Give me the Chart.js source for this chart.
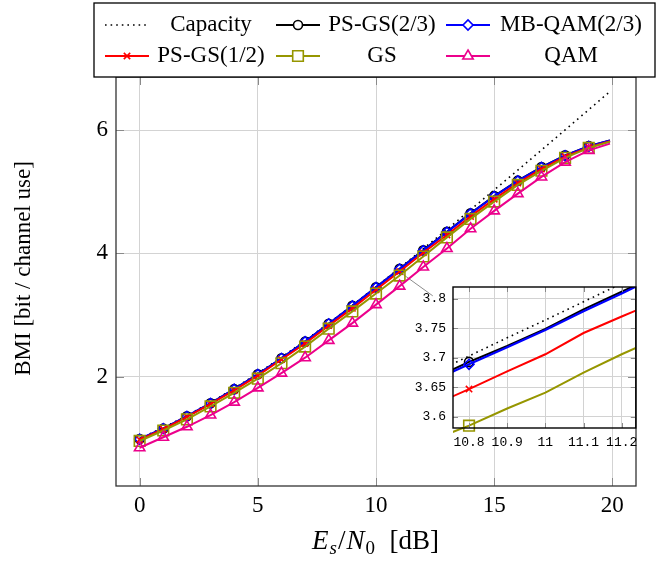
<!DOCTYPE html>
<html>
<head>
<meta charset="utf-8">
<script src="https://cdn.jsdelivr.net/npm/chart.js@4.4.0/dist/chart.umd.min.js"></script>
<style>
  html, body { margin: 0; padding: 0; background: #fff; }
  #wrap { position: relative; width: 668px; height: 561px; }
  #main { position: absolute; left: 0; top: 0; }
  #inset { position: absolute; left: 390px; top: 262px; }
</style>
</head>
<body>
<div id="wrap">
  <canvas id="main" width="668" height="561"></canvas>
  <canvas id="inset" width="255" height="192"></canvas>
</div>
<script>
// main plot: Es/N0 in dB
const snr = [0, 1, 2, 3, 4, 5, 6, 7, 8, 9, 10, 11, 12, 13, 14, 15, 16, 17, 18, 19, 19.9];
const capacity = [1.000, 1.176, 1.370, 1.583, 1.812, 2.057, 2.316, 2.588, 2.870, 3.161, 3.459, 3.764, 4.075, 4.389, 4.707, 5.028, 5.351, 5.676, 6.002, 6.330, 6.625];
const psgs23 = [0.99, 1.16, 1.36, 1.57, 1.80, 2.04, 2.30, 2.57, 2.86, 3.15, 3.45, 3.75, 4.05, 4.35, 4.65, 4.93, 5.18, 5.40, 5.59, 5.74, 5.83];
const mbqam23 = [0.99, 1.16, 1.36, 1.57, 1.80, 2.04, 2.30, 2.57, 2.86, 3.15, 3.45, 3.747, 4.045, 4.345, 4.645, 4.925, 5.175, 5.395, 5.585, 5.735, 5.83];
const psgs12 = [0.98, 1.15, 1.35, 1.56, 1.78, 2.02, 2.28, 2.54, 2.83, 3.11, 3.41, 3.706, 4.01, 4.30, 4.60, 4.88, 5.14, 5.37, 5.57, 5.72, 5.82];
const gs = [0.96, 1.13, 1.31, 1.52, 1.74, 1.97, 2.22, 2.49, 2.78, 3.06, 3.35, 3.641, 3.95, 4.26, 4.56, 4.84, 5.11, 5.34, 5.55, 5.71, 5.81];
const qam = [0.85, 1.02, 1.19, 1.38, 1.59, 1.82, 2.06, 2.31, 2.59, 2.87, 3.17, 3.47, 3.78, 4.08, 4.40, 4.69, 4.97, 5.24, 5.48, 5.67, 5.78];
const xTicks = [0, 5, 10, 15, 20];
const yTicks = [2, 4, 6];

// zoomed inset around 11 dB
const insetSnr = [10.7, 10.8, 10.9, 11.0, 11.1, 11.2, 11.3];
const insetCapacity = [3.672, 3.703, 3.734, 3.764, 3.795, 3.826, 3.857];
const insetPsgs23 = [3.663, 3.693, 3.720, 3.749, 3.782, 3.812, 3.842];
const insetMbqam23 = [3.660, 3.689, 3.718, 3.747, 3.779, 3.809, 3.840];
const insetPsgs12 = [3.618, 3.647, 3.677, 3.706, 3.742, 3.770, 3.797];
const insetGs = [3.560, 3.585, 3.614, 3.641, 3.675, 3.706, 3.735];
const insetXTicks = [10.8, 10.9, 11, 11.1, 11.2];
const insetXLabels = ['10.8', '10.9', '11', '11.1', '11.2'];
const insetYTicks = [3.6, 3.65, 3.7, 3.75, 3.8];
const insetYLabels = ['3.6', '3.65', '3.7', '3.75', '3.8'];

const labels = ['Capacity', 'PS-GS(2/3)', 'MB-QAM(2/3)', 'PS-GS(1/2)', 'GS', 'QAM'];
const styles = [
  { color: '#000000', point: false, r: 0, dash: [1.6, 4], width: 1.6 },
  { color: '#000000', point: 'circle', r: 4.5, dash: [], width: 2 },
  { color: '#0000ff', point: 'rectRot', r: 5, dash: [], width: 2.2 },
  { color: '#ff0000', point: 'crossRot', r: 4.5, dash: [], width: 2 },
  { color: '#969600', point: 'rect', r: 7.5, dash: [], width: 2 },
  { color: '#ec008c', point: 'triangle', r: 6, dash: [], width: 2 }
];

const SERIF = "'Liberation Serif', 'Times New Roman', serif";
Chart.defaults.font.family = SERIF;
Chart.defaults.color = '#000';

function lineSet(i, xs, ys, markAt) {
  const s = styles[i];
  return {
    label: labels[i],
    data: xs.map((x, k) => ({ x: x, y: ys[k] })),
    borderColor: s.color,
    borderWidth: s.width,
    borderDash: s.dash,
    backgroundColor: 'rgba(0,0,0,0)',
    pointStyle: s.point,
    pointRadius: c => (s.point && markAt(c.dataIndex)) ? s.r : 0,
    pointHoverRadius: 0,
    pointBorderColor: s.color,
    pointBackgroundColor: 'rgba(0,0,0,0)',
    pointBorderWidth: 1.6,
    tension: 0,
    fill: false,
    order: styles.length - i
  };
}

function tickSetter(arr) {
  return scale => { scale.ticks = arr.map(v => ({ value: v })); };
}

function drawFrame(chart, xt, yt, len, boxColor, boxWidth) {
  const { ctx, chartArea: a } = chart;
  const xs = chart.scales.x, ys = chart.scales.y;
  ctx.save();
  ctx.strokeStyle = '#8a8a8a';
  ctx.lineWidth = 1;
  ctx.beginPath();
  xt.forEach(v => {
    const p = Math.round(xs.getPixelForValue(v)) + 0.5;
    ctx.moveTo(p, a.bottom); ctx.lineTo(p, a.bottom - len);
    ctx.moveTo(p, a.top); ctx.lineTo(p, a.top + len);
  });
  yt.forEach(v => {
    const p = Math.round(ys.getPixelForValue(v)) + 0.5;
    ctx.moveTo(a.left, p); ctx.lineTo(a.left + len, p);
    ctx.moveTo(a.right, p); ctx.lineTo(a.right - len, p);
  });
  ctx.stroke();
  ctx.strokeStyle = boxColor;
  ctx.lineWidth = boxWidth;
  ctx.strokeRect(a.left, a.top, a.right - a.left, a.bottom - a.top);
  ctx.restore();
}

// inset first, so the main chart can aim its connector at it
const insetCanvas = document.getElementById('inset');
const insetChart = new Chart(insetCanvas.getContext('2d'), {
  type: 'line',
  data: {
    datasets: [
      lineSet(0, insetSnr, insetCapacity, () => false),
      lineSet(1, insetSnr, insetPsgs23, k => insetSnr[k] === 10.8),
      lineSet(2, insetSnr, insetMbqam23, k => insetSnr[k] === 10.8),
      lineSet(3, insetSnr, insetPsgs12, k => insetSnr[k] === 10.8),
      lineSet(4, insetSnr, insetGs, k => insetSnr[k] === 10.8)
    ].map(d => Object.assign(d, { clip: { left: 0, right: 0, top: 0, bottom: 8 } }))
  },
  options: {
    responsive: false,
    animation: false,
    events: [],
    layout: { padding: { top: 25, right: 9, left: 0, bottom: 0 } },
    plugins: { legend: { display: false }, tooltip: { enabled: false } },
    scales: {
      x: {
        type: 'linear', min: 10.758, max: 11.237,
        afterBuildTicks: tickSetter(insetXTicks),
        afterFit: s => { s.height = 26; },
        grid: { color: '#d2d2d2', drawTicks: false },
        border: { display: false },
        ticks: { padding: 7, maxRotation: 0, autoSkip: false, font: { family: "'Liberation Mono', monospace", size: 13 }, callback: (v, i) => insetXLabels[i] }
      },
      y: {
        type: 'linear', min: 3.581, max: 3.82,
        afterBuildTicks: tickSetter(insetYTicks),
        afterFit: s => { s.width = 63; },
        grid: { color: '#d2d2d2', drawTicks: false },
        border: { display: false },
        ticks: { padding: 7, autoSkip: false, font: { family: "'Liberation Mono', monospace", size: 13 }, callback: (v, i) => insetYLabels[i] }
      }
    }
  },
  plugins: [{
    id: 'insetFrame',
    afterDraw: c => drawFrame(c, insetXTicks, insetYTicks, 5, '#000', 1.4)
  }]
});

const spyPoint = [11, 3.7];
const connectorEnd = [10.705, 3.805];

const legendBox = { left: 94, top: 3, right: 655 };
const legendCols = [105, 276, 446];
const legendText = [211, 382, 571];
const legendRows = [25, 56];

const mainDecor = {
  id: 'mainDecor',
  beforeDatasetsDraw(chart) {
    const { ctx } = chart;
    const ix = insetChart.scales.x, iy = insetChart.scales.y;
    ctx.save();
    ctx.strokeStyle = '#8c8c8c';
    ctx.lineWidth = 1;
    ctx.beginPath();
    ctx.moveTo(chart.scales.x.getPixelForValue(spyPoint[0]), chart.scales.y.getPixelForValue(spyPoint[1]));
    ctx.lineTo(insetCanvas.offsetLeft + ix.getPixelForValue(connectorEnd[0]),
               insetCanvas.offsetTop + iy.getPixelForValue(connectorEnd[1]));
    ctx.stroke();
    ctx.restore();
  },
  afterDraw(chart) {
    const { ctx, chartArea: a } = chart;
    drawFrame(chart, xTicks, yTicks, 8, '#333', 1.3);

    // legend
    ctx.save();
    ctx.fillStyle = '#fff';
    ctx.fillRect(legendBox.left, legendBox.top, legendBox.right - legendBox.left, a.top - legendBox.top);
    ctx.strokeStyle = '#000';
    ctx.lineWidth = 1.3;
    ctx.strokeRect(legendBox.left, legendBox.top, legendBox.right - legendBox.left, a.top - legendBox.top);
    chart.data.datasets.forEach((d, i) => {
      const cx = legendCols[i % 3], cy = legendRows[Math.floor(i / 3)];
      ctx.strokeStyle = d.borderColor;
      ctx.lineWidth = d.borderWidth;
      ctx.setLineDash(d.borderDash);
      ctx.beginPath();
      ctx.moveTo(cx, cy); ctx.lineTo(cx + 44, cy);
      ctx.stroke();
      ctx.setLineDash([]);
      const s = styles[i];
      if (s.point) {
        ctx.fillStyle = '#fff';
        ctx.lineWidth = 1.6;
        Chart.helpers.drawPoint(ctx, { pointStyle: s.point, radius: s.r, rotation: 0, borderWidth: 1.6 }, cx + 22, cy);
      }
      ctx.fillStyle = '#000';
      ctx.font = '23px ' + SERIF;
      ctx.textAlign = 'center';
      ctx.textBaseline = 'middle';
      ctx.fillText(d.label, legendText[i % 3], cy);
    });
    ctx.restore();

    // y axis title
    ctx.save();
    ctx.fillStyle = '#000';
    ctx.font = '23px ' + SERIF;
    ctx.textAlign = 'center';
    ctx.textBaseline = 'middle';
    ctx.translate(24, (a.top + a.bottom) / 2 - 13);
    ctx.rotate(-Math.PI / 2);
    ctx.fillText('BMI [bit / channel use]', 0, 0);
    ctx.restore();

    // x axis title: E_s/N_0 [dB]
    const parts = [
      { t: 'E', f: 'italic 27px ', dy: 0 },
      { t: 's', f: 'italic 19px ', dy: 5 },
      { t: '/', f: '27px ', dy: 0 },
      { t: 'N', f: 'italic 27px ', dy: 0 },
      { t: '0', f: '19px ', dy: 5 },
      { t: '  [dB]', f: '27px ', dy: 0 }
    ];
    ctx.save();
    ctx.fillStyle = '#000';
    ctx.textBaseline = 'alphabetic';
    ctx.textAlign = 'left';
    let total = 0;
    parts.forEach(p => { ctx.font = p.f + SERIF; p.w = ctx.measureText(p.t).width + 1; total += p.w; });
    let x = (a.left + a.right) / 2 - total / 2;
    parts.forEach(p => {
      ctx.font = p.f + SERIF;
      ctx.fillText(p.t, x, 549 + p.dy);
      x += p.w;
    });
    ctx.restore();
  }
};

new Chart(document.getElementById('main').getContext('2d'), {
  type: 'line',
  data: {
    datasets: [
      lineSet(0, snr, capacity, () => false),
      lineSet(1, snr, psgs23, k => k < snr.length - 1),
      lineSet(2, snr, mbqam23, k => k < snr.length - 1),
      lineSet(3, snr, psgs12, k => k < snr.length - 1),
      lineSet(4, snr, gs, k => k < snr.length - 1),
      lineSet(5, snr, qam, k => k < snr.length - 1)
    ]
  },
  options: {
    responsive: false,
    animation: false,
    events: [],
    layout: { padding: { top: 77, right: 32, left: 0, bottom: 0 } },
    plugins: { legend: { display: false }, tooltip: { enabled: false } },
    scales: {
      x: {
        type: 'linear', min: -1, max: 21,
        afterBuildTicks: tickSetter(xTicks),
        afterFit: s => { s.height = 75; },
        grid: { color: '#d3d3d3', drawTicks: false },
        border: { display: false },
        ticks: { padding: 6, maxRotation: 0, autoSkip: false, font: { size: 23 } }
      },
      y: {
        type: 'linear', min: 0.23, max: 6.86,
        afterBuildTicks: tickSetter(yTicks),
        afterFit: s => { s.width = 116; },
        grid: { color: '#d3d3d3', drawTicks: false },
        border: { display: false },
        ticks: { padding: 8, autoSkip: false, font: { size: 23 } }
      }
    }
  },
  plugins: [mainDecor]
});
</script>
</body>
</html>
